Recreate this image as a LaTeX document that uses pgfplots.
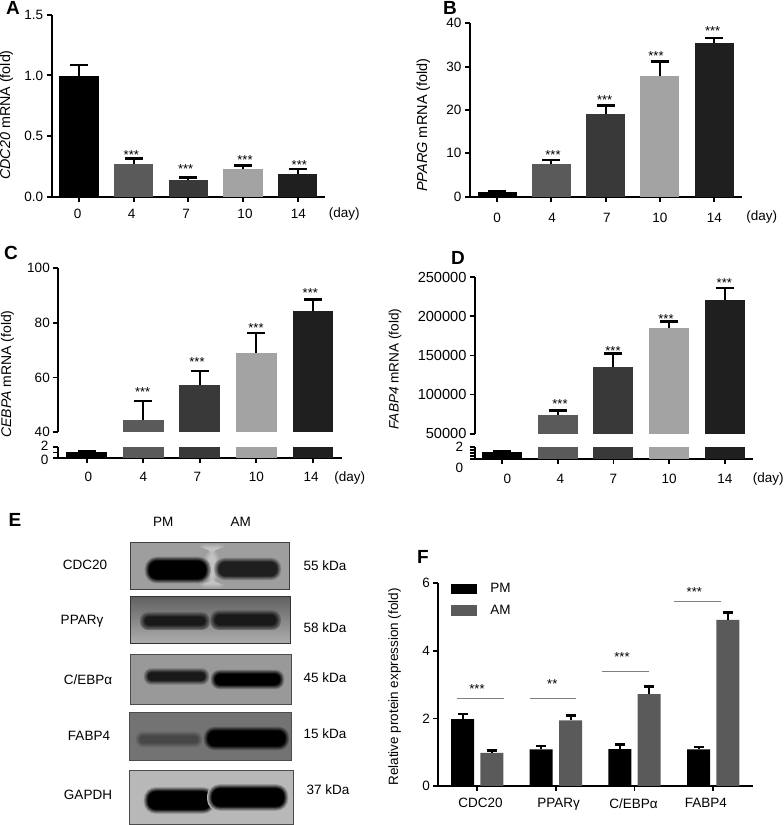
\documentclass[border=0pt]{standalone}
\usepackage{fontspec}
\setmainfont{Liberation Sans}
\usepackage{pgfplots}
\pgfplotsset{compat=1.18}
\definecolor{cA}{HTML}{000000}
\definecolor{cB}{HTML}{5A5A5A}
\definecolor{cC}{HTML}{393939}
\definecolor{cD}{HTML}{A3A3A3}
\definecolor{cE}{HTML}{1F1F1F}
\newcommand\K[2]{\kern#1pt #2}
\newcommand\txt[3]{\node[font=\fontsize{13.5}{15}\selectfont,inner sep=0pt] at (#1,{825-#2}) {#3};}
\newcommand\stars[3]{\node[font=\fontsize{13}{14}\selectfont,inner sep=0pt,anchor=base] at (#1,{825-#2-7.5}) {#3};}
\newcommand\letter[3]{\node[font=\fontsize{19}{20}\selectfont\bfseries,inner sep=0pt] at (#1,{825-#2}) {#3};}
\newcommand\rot[4]{\node[font=\fontsize{#4}{15}\selectfont,inner sep=0pt,rotate=90] at (#1,{825-#2}) {#3};}
% soft band: nested rounded rectangles, x1 x2 y1 y2 band bg
\newcommand\band[6]{%
  \colorlet{bandc}{#5}\colorlet{bgc}{#6}%
  \foreach \i in {0,...,8}{%
    \pgfmathsetmacro\pc{\i*12.5}%
    \pgfmathsetmacro\ins{\i*0.6}%
    \pgfmathsetmacro\rad{max(0.5,((#4-#3)/2-\ins)*0.9)}%
    \fill[bandc!\pc!bgc,rounded corners=\rad pt] ({#1+\ins},{825-#3-\ins}) rectangle ({#2-\ins},{825-#4+\ins});
  }}
\pgfplotsset{
  base/.style={
    scale only axis, axis on top=false, clip=true,
    axis y line*=left, axis x line*=bottom,
    axis line style={-,line width=2pt,black},
    tick style={line width=1.8pt,black},
    major tick length=5pt, tick align=outside,
    xtick pos=bottom, ytick pos=left,
    tick label style={font=\fontsize{13.5}{15}\selectfont,/pgf/number format/assume math mode=true},
    ybar=0pt,
    error bars/y dir=plus, error bars/y explicit,
    error bars/error bar style={line width=2pt,black},
    error bars/error mark options={rotate=90,line width=2.6pt,mark size=9pt,black},
    ymin=0,
    scaled y ticks=false,
    /pgf/number format/fixed,
    /pgf/number format/1000 sep={},
  },
}
\begin{document}
\begin{tikzpicture}[x=1pt,y=1pt]
\path[use as bounding box] (0,0) rectangle (784,825);
% Panel A
\begin{axis}[base, at={(51.7pt,628.3pt)}, anchor=south west, width=273.3pt, height=182pt,
  xmin=-0.5, xmax=4.5, ymax=1.5, bar width=39.3pt,
  xticklabel style={yshift=-4pt},
  xtick={0,1,2,3,4}, xticklabels={\K{-2.6}{0},\K{-4}{4},\K{-4.6}{7},\K{4}{10},\K{1.4}{14}},
  ytick={0,0.5,1,1.5}, yticklabel style={/pgf/number format/fixed,/pgf/number format/fixed zerofill,/pgf/number format/precision=1}]
\addplot[fill=cA,draw=none,bar shift=0pt] coordinates {(0,0.995) +- (0,0.09)};
\addplot[fill=cB,draw=none,bar shift=0pt] coordinates {(1,0.266) +- (0,0.05)};
\addplot[fill=cC,draw=none,bar shift=0pt] coordinates {(2,0.135) +- (0,0.025)};
\addplot[fill=cD,draw=none,bar shift=0pt] coordinates {(3,0.225) +- (0,0.03)};
\addplot[fill=cE,draw=none,bar shift=0pt] coordinates {(4,0.184) +- (0,0.044)};
\end{axis}
% Panel B
\begin{axis}[base, at={(470pt,628.3pt)}, anchor=south west, width=272.3pt, height=173.4pt,
  xmin=-0.497, xmax=4.515, ymax=40, bar width=39pt,
  xticklabel style={yshift=-8pt},
  xtick={0,1,2,3,4}, xticklabels={0,\K{1.4}{4},\K{2.6}{7},10,14},
  ytick={0,10,20,30,40}]
\addplot[fill=cA,draw=none,bar shift=0pt] coordinates {(0,1.15) +- (0,0.05)};
\addplot[fill=cB,draw=none,bar shift=0pt] coordinates {(1,7.6) +- (0,0.9)};
\addplot[fill=cC,draw=none,bar shift=0pt] coordinates {(2,19.1) +- (0,1.9)};
\addplot[fill=cD,draw=none,bar shift=0pt] coordinates {(3,27.85) +- (0,3.35)};
\addplot[fill=cE,draw=none,bar shift=0pt] coordinates {(4,35.5) +- (0,1.1)};
\end{axis}
% Panel C upper
\begin{axis}[base, at={(58.3pt,392.7pt)}, anchor=south west, width=283.4pt, height=164.3pt,
  hide x axis, xmin=-0.503, xmax=4.51, ymin=40, ymax=100, bar width=40.7pt,
  ytick={40,60,80,100}]
\addplot[fill=cB,draw=none,bar shift=0pt] coordinates {(1,44.4) +- (0,7)};
\addplot[fill=cC,draw=none,bar shift=0pt] coordinates {(2,57.2) +- (0,5.2)};
\addplot[fill=cD,draw=none,bar shift=0pt] coordinates {(3,69.1) +- (0,7.2)};
\addplot[fill=cE,draw=none,bar shift=0pt] coordinates {(4,84.2) +- (0,4.2)};
\end{axis}
% Panel C lower
\begin{axis}[base, at={(58.3pt,366.7pt)}, anchor=south west, width=283.4pt, height=11.6pt,
  xmin=-0.503, xmax=4.51, ymin=0, ymax=2, bar width=40.7pt,
  xticklabel style={yshift=-5pt},
  xtick={0,1,2,3,4}, xticklabels={\K{3.4}{0},4,\K{-4.6}{7},10,\K{-3.4}{14}},
  ytick={0,1,2}, yticklabels={,,}]
\addplot[fill=cA,draw=none,bar shift=0pt] coordinates {(0,1.14) +- (0,0.15)};
\addplot[fill=cB,draw=none,bar shift=0pt] coordinates {(1,2)};
\addplot[fill=cC,draw=none,bar shift=0pt] coordinates {(2,2)};
\addplot[fill=cD,draw=none,bar shift=0pt] coordinates {(3,2)};
\addplot[fill=cE,draw=none,bar shift=0pt] coordinates {(4,2)};
\end{axis}
% Panel D upper
\begin{axis}[base, at={(475pt,391.3pt)}, anchor=south west, width=278.3pt, height=156.4pt,
  hide x axis, xmin=-0.484, xmax=4.508, ymin=50000, ymax=250000, bar width=40pt,
  yticklabel style={font=\fontsize{14.6}{15}\selectfont},
  ytick={50000,100000,150000,200000,250000}]
\addplot[fill=cB,draw=none,bar shift=0pt] coordinates {(1,74300) +- (0,5500)};
\addplot[fill=cC,draw=none,bar shift=0pt] coordinates {(2,135300) +- (0,17500)};
\addplot[fill=cD,draw=none,bar shift=0pt] coordinates {(3,185600) +- (0,7700)};
\addplot[fill=cE,draw=none,bar shift=0pt] coordinates {(4,221000) +- (0,15400)};
\end{axis}
% Panel D lower
\begin{axis}[base, at={(475pt,366pt)}, anchor=south west, width=278.3pt, height=11.7pt,
  xmin=-0.484, xmax=4.508, ymin=0, ymax=2, bar width=40pt,
  xticklabel style={yshift=-7pt},
  xtick={0,1,2,3,4}, xticklabels={\K{10.6}{0},\K{5.4}{4},7,10,14},
  ytick={0,0.5,1,1.5,2}, yticklabels={,,,,}]
\addplot[fill=cA,draw=none,bar shift=0pt] coordinates {(0,1.2) +- (0,0.17)};
\addplot[fill=cB,draw=none,bar shift=0pt] coordinates {(1,2)};
\addplot[fill=cC,draw=none,bar shift=0pt] coordinates {(2,2)};
\addplot[fill=cD,draw=none,bar shift=0pt] coordinates {(3,2)};
\addplot[fill=cE,draw=none,bar shift=0pt] coordinates {(4,2)};
\end{axis}
% Panel F
\begin{axis}[base, at={(438.3pt,39pt)}, anchor=south west, width=314.4pt, height=202.7pt,
  xmin=-0.494, xmax=3.502, ymax=6, bar width=23pt,
  xticklabel style={yshift=-4pt},
  xtick={0,1,2,3}, xticklabels={\K{6.6}{CDC20},\K{5.4}{PPARγ},\K{-2}{C/EBPα},\K{-14.6}{FABP4}},
  ytick={0,2,4,6},
  error bars/error mark options={rotate=90,line width=2.6pt,mark size=5pt,black},
  legend image code/.code={\fill[#1] (0pt,-5.2pt) rectangle (26pt,5.2pt);},
  legend style={draw=none,fill=none,at={(axis description cs:0.041,1.01)},anchor=north west,
     font=\fontsize{13.5}{15}\selectfont,row sep=6.7pt,inner sep=0pt,
     nodes={inner sep=2pt},cells={anchor=west},/tikz/column 2/.style={column sep=0pt}}]
\addplot[fill=cA,draw=none,bar shift=-14.67pt] coordinates {(0,1.98) +- (0,0.15) (1,1.085) +- (0,0.095) (2,1.095) +- (0,0.125) (3,1.085) +- (0,0.07)};
\addlegendentry{\kern11pt PM}
\addplot[fill=cB,draw=none,bar shift=14.67pt] coordinates {(0,0.977) +- (0,0.07) (1,1.944) +- (0,0.135) (2,2.72) +- (0,0.22) (3,4.92) +- (0,0.21)};
\addlegendentry{\kern11pt AM}
\addplot[sharp plot,gray,line width=0.9pt,forget plot] coordinates {(-0.252,2.605) (0.337,2.605)};
\addplot[sharp plot,gray,line width=0.9pt,forget plot] coordinates {(0.667,2.605) (1.257,2.605)};
\addplot[sharp plot,gray,line width=0.9pt,forget plot] coordinates {(1.587,3.405) (2.18,3.405)};
\addplot[sharp plot,gray,line width=0.9pt,forget plot] coordinates {(2.505,5.477) (3.094,5.477)};
\end{axis}
% lower tick labels of C and D
\node[font=\fontsize{13.5}{15}\selectfont,anchor=east,inner sep=0pt] at (48.5,{825-446}) {2};
\node[font=\fontsize{13.5}{15}\selectfont,anchor=east,inner sep=0pt] at (48.5,{825-460}) {0};
\node[font=\fontsize{13.5}{15}\selectfont,anchor=east,inner sep=0pt] at (463.3,{825-446.7}) {2};
\node[font=\fontsize{13.5}{15}\selectfont,anchor=east,inner sep=0pt] at (463.3,{825-468.3}) {0};
% day labels
\txt{344.3}{214}{(day)}
\txt{761.7}{217}{(day)}
\txt{349.7}{478}{(day)}
\txt{768.3}{478.7}{(day)}
% y labels
\rot{6.5}{115}{\textit{CDC20} mRNA (fold)}{14.3}
\rot{423.3}{125}{\textit{PPARG} mRNA (fold)}{14.5}
\rot{7.5}{374}{\textit{CEBPA} mRNA (fold)}{14}
\rot{395}{369}{\textit{FABP4} mRNA (fold)}{13.6}
\rot{394.7}{687}{Relative protein expression (fold)}{13.5}
% stars
\stars{131.3}{151.7}{***}\stars{185.7}{166}{***}\stars{245}{156.7}{***}\stars{299.3}{161.7}{***}
\stars{553}{151.7}{***}\stars{604.7}{97.3}{***}\stars{656}{53}{***}\stars{712.7}{28}{***}
\stars{142.7}{389}{***}\stars{197}{359.3}{***}\stars{256}{324.7}{***}\stars{310.3}{290.3}{***}
\stars{560}{401.3}{***}\stars{613}{348.3}{***}\stars{666}{316.3}{***}\stars{724.3}{279.7}{***}
\stars{477}{686}{***}\stars{552.3}{680.7}{**}\stars{622}{653.7}{***}\stars{694.3}{589}{***}
% letters
\letter{13}{8}{A}\letter{450}{8}{B}\letter{11}{252.7}{C}\letter{458}{257.7}{D}\letter{15}{520}{E}\letter{423}{557}{F}
% Blots
\colorlet{g1}{black!38}\colorlet{g3}{black!40}\colorlet{g4}{black!55}\colorlet{g5}{black!28}
% CDC20
\fill[g1] (130.7,{825-542.3}) rectangle (289,{825-589.3});
\band{203}{221}{543}{589}{black!24}{g1}
\band{144}{211}{556}{584}{black}{g1}
\band{214}{282}{557}{581}{black!88}{g1}
\draw[black!75,line width=0.8pt] (130.7,{825-542.3}) rectangle (289,{825-589.3});
% PPARg
\shade[top color=black!62,middle color=black!62,bottom color=black!32] (130.7,{825-596.7}) rectangle (290.7,{825-643.3});
\band{140}{210}{612}{630}{black!90}{black!58}
\band{210}{281}{610}{630}{black!90}{black!58}
\draw[black!80,line width=0.8pt] (130.7,{825-596.7}) rectangle (290.7,{825-643.3});
% CEBPa
\fill[g3] (130.7,{825-654}) rectangle (291,{825-704.3});
\band{143}{210}{667.5}{685.5}{black!90}{g3}
\band{210}{285}{669}{690}{black}{g3}
\draw[black!70,line width=0.8pt] (130.7,{825-654}) rectangle (291,{825-704.3});
% FABP4
\fill[g4] (129.3,{825-712.7}) rectangle (291,{825-760});
\band{135}{203}{731}{748}{black!72}{g4}
\band{203}{290}{726}{751}{black}{g4}
\draw[black!70,line width=0.8pt] (129.3,{825-712.7}) rectangle (291,{825-760});
% GAPDH
\fill[g5] (129.3,{825-770.7}) rectangle (293.3,{825-824});
\band{143}{216}{786.5}{814.5}{black}{g5}
\band{207}{289}{783.5}{811.5}{black}{g5}
\draw[black!70,line width=0.8pt] (129.3,{825-770.7}) rectangle (293.3,{825-824});
% blot labels
\txt{163.3}{521.5}{PM}\txt{240.7}{521.5}{AM}
\txt{85}{565}{CDC20}\txt{82}{621.5}{PPARγ}\txt{88}{680}{C/EBPα}\txt{89}{736}{FABP4}\txt{88}{795}{GAPDH}
\txt{325}{566}{55 kDa}\txt{325}{627.5}{58 kDa}\txt{325}{678}{45 kDa}\txt{325}{733.5}{15 kDa}\txt{328}{789.5}{37 kDa}
\end{tikzpicture}
\end{document}
